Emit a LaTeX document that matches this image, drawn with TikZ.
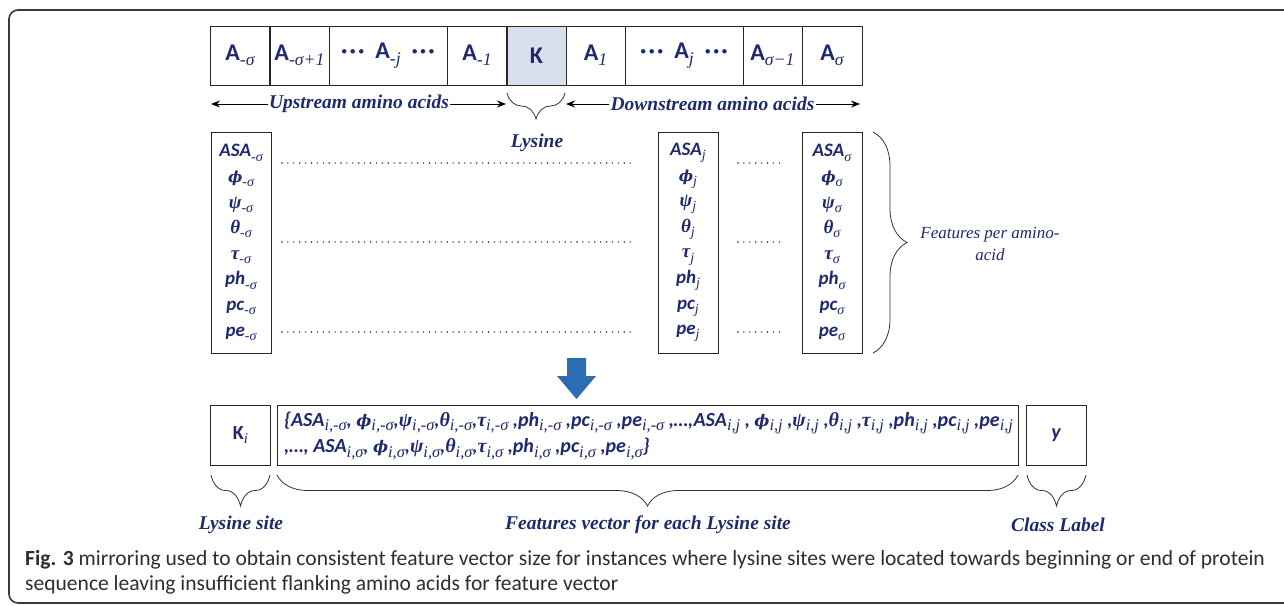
\documentclass[tikz,border=0pt]{standalone}
\usepackage{fontspec}
\usepackage{graphicx}
\setmainfont{Carlito}
\newfontfamily\serif{Liberation Serif}
\newfontfamily\dvs{DejaVu Serif}
\usetikzlibrary{decorations.pathreplacing,arrows.meta}
\definecolor{navy}{HTML}{1E2A6E}
\definecolor{kfill}{HTML}{D9DFEE}
\definecolor{arrowblue}{HTML}{2B6CB3}
\definecolor{capgray}{HTML}{2E2E2E}
\definecolor{framegray}{HTML}{3A3A3A}
\newcommand\sbs[1]{\raisebox{-0.45ex}{\scalebox{0.74}{\serif\mdseries\itshape #1}}}
\newcommand\sbv[1]{\raisebox{-0.45ex}{\scalebox{0.82}{\serif\mdseries\itshape #1}}}
\newcommand\gk[1]{{\serif\bfseries\itshape #1}}
\newcommand\phis{{\dvs\bfseries\itshape\scalebox{0.8}{ϕ}}}
\newcommand\mdots{·\kern2pt·\kern2pt·}
\begin{document}
\begin{tikzpicture}[x=1pt,y=-1pt,
  abox/.style={draw=black!85,line width=0.8pt,minimum height=59,inner sep=0pt,
    font=\fontsize{24}{28}\selectfont\bfseries,text=navy},
  fbox/.style={draw=black!85,line width=0.8pt,minimum height=221,inner sep=0pt,align=center,
    font=\fontsize{19}{25.6}\selectfont\bfseries\itshape,text=navy},
  bbox/.style={draw=black!85,line width=0.8pt,minimum height=60,inner sep=0pt},
  lbl/.style={font=\serif\fontsize{19.5}{23}\selectfont\bfseries\itshape,text=navy,inner sep=1pt},
  vtext/.style={anchor=west,font=\fontsize{20}{22}\selectfont\bfseries\itshape,text=navy,inner sep=0pt},
  dotline/.style={navy,line width=1.6pt,line cap=round,dash pattern=on 0pt off 5.9pt},
  harrow/.style={line width=0.9pt,-{Stealth[length=9pt,width=7pt]}},
  bracedown/.style={decorate,decoration={brace,mirror,amplitude=#1},line width=0.8pt,black!80},
  braceup/.style={decorate,decoration={brace,amplitude=#1},line width=0.8pt,black!80}
]
\useasboundingbox (0,0) rectangle (1284,605);
\clip (0,0) rectangle (1284,605);
\draw[line width=1.6pt,framegray,rounded corners=9pt] (9,10) rectangle (1310,603);

% top sequence boxes
\node[abox,minimum width=59] (b1) at (240,55.5) {A\sbs{-σ}};
\node[abox,minimum width=59] (b2) at (299.5,55.5) {A\sbs{-σ+1}};
\node[abox,minimum width=118] (b3) at (388,55.5) {\mdots\ \ A\sbs{-j}\ \ \mdots};
\node[abox,minimum width=59.5] (b4) at (477,55.5) {A\sbs{-1}};
\node[abox,minimum width=59,fill=kfill] (bk) at (536.5,55.5) {K};
\node[abox,minimum width=59] (b6) at (595.5,55.5) {A\sbs{1}};
\node[abox,minimum width=118] (b7) at (684,55.5) {\mdots\ \ A\sbs{j}\ \ \mdots};
\node[abox,minimum width=59] (b8) at (772.5,55.5) {A\sbs{σ−1}};
\node[abox,minimum width=60] (b9) at (832,55.5) {A\sbs{σ}};

% upstream / downstream
\node[lbl] (up) at (359,104) {Upstream amino acids};
\node[lbl] (down) at (712.5,104) {Downstream amino acids};
\coordinate (upL) at (211,104);
\coordinate (upR) at (506,104);
\coordinate (dnL) at (566,104);
\coordinate (dnR) at (860,104);
\draw[harrow] (up.west) -- (upL);
\draw[harrow] (up.east) -- (upR);
\draw[harrow] (down.west) -- (dnL);
\draw[harrow] (down.east) -- (dnR);

% lysine brace
\coordinate (lyA) at (507,93);
\coordinate (lyB) at (565,93);
\draw[bracedown=26pt] (lyA) -- (lyB);
\node[lbl] (lys) at (537,143) {Lysine};

% feature boxes
\node[fbox,minimum width=60] (f1) at (241,242.5) {ASA\sbs{-σ}\\\phis\sbs{-σ}\\\gk{ψ}\sbs{-σ}\\\gk{θ}\sbs{-σ}\\\gk{τ}\sbs{-σ}\\ph\sbs{-σ}\\pc\sbs{-σ}\\pe\sbs{-σ}};
\node[fbox,minimum width=60] (f2) at (688,242.5) {ASA\sbs{j}\\\phis\sbs{j}\\\gk{ψ}\sbs{j}\\\gk{θ}\sbs{j}\\\gk{τ}\sbs{j}\\ph\sbs{j}\\pc\sbs{j}\\pe\sbs{j}};
\node[fbox,minimum width=60] (f3) at (832,242.5) {ASA\sbs{σ}\\\phis\sbs{σ}\\\gk{ψ}\sbs{σ}\\\gk{θ}\sbs{σ}\\\gk{τ}\sbs{σ}\\ph\sbs{σ}\\pc\sbs{σ}\\pe\sbs{σ}};

% dotted lines
\foreach \yy in {163,242,332} {
  \draw[dotline] (282,\yy) -- (633,\yy);
  \draw[dotline] (738,\yy) -- (783,\yy);
}

% right brace
\coordinate (frA) at (873,132);
\coordinate (frB) at (873,353);
\draw[braceup=34pt] (frA) -- (frB);
\node[font=\serif\fontsize{17}{22.5}\selectfont\itshape,text=navy,align=center] (fpa) at (990,244) {Features per amino-\\acid};

% blue arrow
\fill[arrowblue] (567,358) -- (586,358) -- (586,376) -- (596,376) -- (576.5,399) -- (557,376) -- (567,376) -- cycle;

% bottom boxes
\node[bbox,minimum width=60,font=\fontsize{20}{24}\selectfont\bfseries,text=navy] (ki) at (240.5,435) {K\sbs{i}};
\node[bbox,minimum width=741] (fv) at (647.5,435) {};
\node[bbox,minimum width=60,font=\fontsize{20}{24}\selectfont\bfseries\itshape,text=navy] (yy) at (1056,435) {y};
\node[vtext] (v1) at (284,423)
 {\{ASA\sbv{i,-σ}, \phis\sbv{i,-σ},\gk{ψ}\sbv{i,-σ},\gk{θ}\sbv{i,-σ},\gk{τ}\sbv{i,-σ} ,ph\sbv{i,-σ} ,pc\sbv{i,-σ} ,pe\sbv{i,-σ} ,…,ASA\sbv{i,j} , \phis\sbv{i,j} ,\gk{ψ}\sbv{i,j} ,\gk{θ}\sbv{i,j} ,\gk{τ}\sbv{i,j} ,ph\sbv{i,j} ,pc\sbv{i,j} ,pe\sbv{i,j}};
\node[vtext] (v2) at (284,449)
 {,…, ASA\sbv{i,σ}, \phis\sbv{i,σ},\gk{ψ}\sbv{i,σ},\gk{θ}\sbv{i,σ},\gk{τ}\sbv{i,σ} ,ph\sbv{i,σ} ,pc\sbv{i,σ} ,pe\sbv{i,σ}\}};

% bottom braces
\coordinate (k1) at (211,475);
\coordinate (k2) at (270,475);
\coordinate (v3) at (277,475);
\coordinate (v4) at (1018,475);
\coordinate (y1) at (1027,475);
\coordinate (y2) at (1086,475);
\draw[bracedown=31pt] (k1) -- (k2);
\draw[bracedown=31pt] (v3) -- (v4);
\draw[bracedown=31pt] (y1) -- (y2);
\node[lbl] (lsite) at (241,525) {Lysine site};
\node[lbl] (fvl) at (648,525) {Features vector for each Lysine site};
\node[lbl] (cl) at (1058,525) {Class Label};

% caption
\node[anchor=base west,inner sep=0pt,font=\fontsize{21.55}{25}\selectfont,text=capgray] (cap1) at (25,565)
 {\textbf{Fig. 3} mirroring used to obtain consistent feature vector size for instances where lysine sites were located towards beginning or end of protein};
\node[anchor=base west,inner sep=0pt,font=\fontsize{21.55}{25}\selectfont,text=capgray] (cap2) at (25,590)
 {sequence leaving insufficient flanking amino acids for feature vector};
\end{tikzpicture}
\end{document}
